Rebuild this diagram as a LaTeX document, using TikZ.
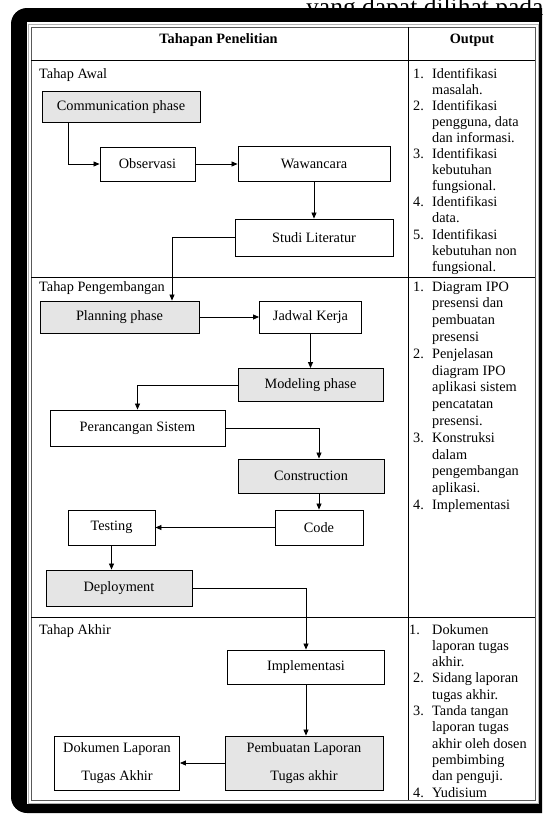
\documentclass[tikz,border=0pt]{standalone}
\usepackage{fontspec}
\setmainfont{Liberation Serif}
\usetikzlibrary{arrows.meta}
\tikzset{
	box/.style={draw, line width=0.9pt, inner sep=0pt, align=center, font=\fontsize{14.3}{16.5}\selectfont},
	shaded/.style={box, fill=gray!20},
	twoline/.style={font=\fontsize{14.3}{28}\selectfont},
	arr/.style={-{Triangle[length=6pt,width=5pt]}, line width=0.8pt},
	lbl/.style={anchor=base west, inner sep=0pt, font=\fontsize{14.3}{16.5}\selectfont},
	hdr/.style={anchor=base, inner sep=0pt, font=\bfseries\fontsize{14.3}{16.5}\selectfont},
}
\newcommand{\outnum}[1]{\makebox[19pt][l]{#1}}
\begin{document}
\begin{tikzpicture}[x=1pt, y=-1pt]
	\useasboundingbox (0,0) rectangle (542,814);
	\clip (0,0) rectangle (542,814);
	\fill[white] (0,0) rectangle (542,814);
	\node[anchor=base west, inner sep=0pt, font=\fontsize{25.5}{30}\selectfont] (caption) at (306,15) {yang dapat dilihat pada};
	\fill[black, rounded corners=16pt] (11,8) rectangle (580,813);
	\fill[white] (27,22) rectangle (539,804);

	\draw[gray!60, line width=1pt] (28,24) rectangle (538,803);
	\draw[gray!70!black, line width=0.6pt] (31,27) rectangle (535,800);
	\draw[line width=0.8pt] (408,27) -- (408,800);
	\foreach \y in {60,277,617}
		\draw[line width=0.8pt] (31,\y) -- (535,\y);

	\node[hdr] (hleft) at (218.5,43) {Tahapan Penelitian};
	\node[hdr] (hright) at (472,43) {Output};
	\node[lbl] (awal) at (39,78) {Tahap Awal};
	\node[lbl] (kembang) at (39,291) {Tahap Pengembangan};
	\node[lbl] (akhir) at (39,634) {Tahap Akhir};

	\foreach \t [count=\i] in {{\outnum{1.}Identifikasi},{\outnum{}masalah.},{\outnum{2.}Identifikasi},{\outnum{}pengguna, data},{\outnum{}dan informasi.},{\outnum{3.}Identifikasi},{\outnum{}kebutuhan},{\outnum{}fungsional.},{\outnum{4.}Identifikasi},{\outnum{}data.},{\outnum{5.}Identifikasi},{\outnum{}kebutuhan non},{\outnum{}fungsional.}}
		\node[lbl] (outa\i) at (413,61.9+16.1*\i) {\t};
	\foreach \t [count=\i] in {{\outnum{1.}Diagram IPO},{\outnum{}presensi dan},{\outnum{}pembuatan},{\outnum{}presensi},{\outnum{2.}Penjelasan},{\outnum{}diagram IPO},{\outnum{}aplikasi sistem},{\outnum{}pencatatan},{\outnum{}presensi.},{\outnum{3.}Konstruksi},{\outnum{}dalam},{\outnum{}pengembangan},{\outnum{}aplikasi.},{\outnum{4.}Implementasi}}
		\node[lbl] (outb\i) at (413,274.2+16.8*\i) {\t};
	\foreach \t [count=\i] in {{\outnum{\hspace*{-4pt}1.}Dokumen},{\outnum{}laporan tugas},{\outnum{}akhir.},{\outnum{2.}Sidang laporan},{\outnum{}tugas akhir.},{\outnum{3.}Tanda tangan},{\outnum{}laporan tugas},{\outnum{}akhir oleh dosen},{\outnum{}pembimbing},{\outnum{}dan penguji.},{\outnum{4.}Yudisium}}
		\node[lbl] (outc\i) at (413,617.7+16.3*\i) {\t};

	\node[shaded, minimum width=158pt, minimum height=31pt] (comm) at (121,107) {Communication phase};
	\node[box, minimum width=95pt, minimum height=34pt] (obs) at (147.5,164) {Observasi};
	\node[box, minimum width=152pt, minimum height=35pt] (waw) at (314,164) {Wawancara};
	\node[box, minimum width=158pt, minimum height=37pt] (studi) at (314,237.5) {Studi Literatur};
	\node[shaded, minimum width=159pt, minimum height=32pt] (plan) at (119.5,317) {Planning phase};
	\node[box, minimum width=102pt, minimum height=32pt] (jadwal) at (310.5,317) {Jadwal Kerja};
	\node[shaded, minimum width=145pt, minimum height=33pt] (model) at (310.5,385) {Modeling phase};
	\node[box, minimum width=175pt, minimum height=36pt] (peran) at (137.5,428) {Perancangan Sistem};
	\node[shaded, minimum width=146pt, minimum height=34pt] (constr) at (311,476) {Construction};
	\node[box, minimum width=88pt, minimum height=35pt] (code) at (319,527.5) {Code};
	\node[box, minimum width=87pt, minimum height=35pt] (testing) at (111.5,527.5) {Testing};
	\node[shaded, minimum width=146pt, minimum height=36pt] (deploy) at (119,588) {Deployment};
	\node[box, minimum width=157pt, minimum height=34pt] (impl) at (306,667) {Implementasi};
	\node[shaded, twoline, minimum width=158pt, minimum height=54pt] (buat) at (304,763) {Pembuatan Laporan\\Tugas akhir};
	\node[box, twoline, minimum width=125pt, minimum height=54pt] (dok) at (117,763) {Dokumen Laporan\\Tugas Akhir};

	\coordinate (commdrop) at (68,0);
	\coordinate (plandrop) at (172,0);
	\draw[arr] (comm.south -| commdrop) |- (obs.west);
	\draw[arr] (obs) -- (waw);
	\draw[arr] (waw) -- (studi);
	\draw[arr] (studi.west) -| (plan.north -| plandrop);
	\draw[arr] (plan) -- (jadwal);
	\draw[arr] (jadwal) -- (model);
	\draw[arr] (model.west) -| (peran.north);
	\draw[arr] (peran.east) -| (constr.north -| code);
	\draw[arr] (constr.south -| code) -- (code);
	\draw[arr] (code) -- (testing);
	\draw[arr] (testing.south) -- (testing.south |- deploy.north);
	\draw[arr] (deploy.east) -| (impl.north);
	\draw[arr] (impl.south) -- (impl.south |- buat.north);
	\draw[arr] (buat) -- (dok);
\end{tikzpicture}
\end{document}
